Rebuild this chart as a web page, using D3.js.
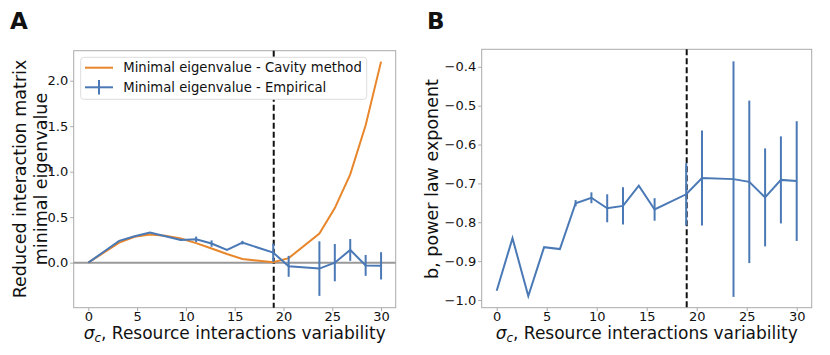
<!DOCTYPE html>
<html>
<head>
<meta charset="utf-8">
<script src="https://cdnjs.cloudflare.com/ajax/libs/d3/7.8.5/d3.min.js"></script>
<style>
  body { margin: 0; background: #fff; }
  text { font-family: "DejaVu Sans", sans-serif; fill: #111; }
</style>
</head>
<body>
<div id="vis"></div>
<script>
////////// data //////////
var sigma = [0, 1.58, 3.16, 4.74, 6.32, 7.89, 9.47, 11.05, 12.63, 14.21, 15.79, 18.95, 20.53, 23.68, 25.26, 26.84, 28.42, 30];
var cavityEig = [0, 0.11, 0.22, 0.285, 0.31, 0.295, 0.265, 0.215, 0.155, 0.095, 0.04, 0.005, 0.05, 0.32, 0.6, 0.97, 1.51, 2.21];
var empiricalEig = [0, 0.12, 0.24, 0.29, 0.33, 0.29, 0.25, 0.257, 0.21, 0.14, 0.22, 0.11, -0.04, -0.065, 0, 0.14, -0.03, -0.035];
var empiricalErr = [0, 0, 0, 0, 0, 0, 0.012, 0.03, 0.035, 0, 0.02, 0.1, 0.115, 0.3, 0.205, 0.12, 0.115, 0.15];
var exponentB = [-0.976, -0.841, -0.99, -0.864, -0.869, -0.751, -0.737, -0.764, -0.758, -0.706, -0.767, -0.728, -0.686, -0.689, -0.696, -0.736, -0.691, -0.694];
var exponentErr = [0, 0, 0, 0, 0, 0.008, 0.014, 0.036, 0.048, 0, 0.029, 0.08, 0.122, 0.303, 0.209, 0.126, 0.112, 0.154];
var criticalSigma = 19;
var xTicks = [0, 5, 10, 15, 20, 25, 30];
var yTicksA = [0, 0.5, 1.0, 1.5, 2.0];
var yTicksB = [-1.0, -0.9, -0.8, -0.7, -0.6, -0.5, -0.4];
var legendLabels = ["Minimal eigenvalue - Cavity method", "Minimal eigenvalue - Empirical"];

var blue = "#4a79b6", orange = "#e8862b", spine = "#aaa";
var tickFont = 13, labelFont = 17.5;

var svg = d3.select("#vis").append("svg")
  .attr("width", 830)
  .attr("height", 355);

function panel(box, xDomain, yDomain, yTicks, yFmt) {
  var x = d3.scaleLinear().domain(xDomain).range([box.left, box.right]);
  var y = d3.scaleLinear().domain(yDomain).range([box.bottom, box.top]);
  var g = svg.append("g");

  var xAxis = g.append("g")
    .attr("transform", "translate(0," + box.bottom + ")")
    .call(d3.axisBottom(x).tickValues(xTicks).tickSize(3.5).tickPadding(1).tickFormat(d3.format("d")));
  var yAxis = g.append("g")
    .attr("transform", "translate(" + box.left + ",0)")
    .call(d3.axisLeft(y).tickValues(yTicks).tickSize(3.5).tickPadding(2).tickFormat(yFmt));
  [xAxis, yAxis].forEach(function (a) {
    a.select(".domain").remove();
    a.selectAll("line").attr("stroke", spine).attr("stroke-width", 1);
    a.selectAll("text").attr("font-size", tickFont).style("font-family", "DejaVu Sans").attr("fill", "#222");
  });

  g.append("rect")
    .attr("x", box.left)
    .attr("y", box.top)
    .attr("width", box.right - box.left)
    .attr("height", box.bottom - box.top)
    .attr("fill", "none")
    .attr("stroke", spine)
    .attr("stroke-width", 1);

  // x label with sigma_c
  var xl = g.append("text")
    .attr("x", (box.left + box.right) / 2)
    .attr("y", 339)
    .attr("text-anchor", "middle")
    .attr("font-size", 17);
  xl.append("tspan").attr("font-style", "italic").text("σ");
  xl.append("tspan").attr("font-style", "italic").attr("font-size", 12).attr("dy", 3).text("c");
  xl.append("tspan").attr("dy", -3).text(", Resource interactions variability");

  return { x: x, y: y, g: g };
}

////////// panel A //////////
var A = panel({ left: 73.7, right: 395.7, top: 50.7, bottom: 307.7 }, [-1.5, 31.5], [-0.495, 2.33], yTicksA, d3.format(".1f"));

A.g.append("line")
  .attr("x1", 73.7).attr("x2", 395.7)
  .attr("y1", A.y(0)).attr("y2", A.y(0))
  .attr("stroke", "#999")
  .attr("stroke-width", 2);

A.g.append("line")
  .attr("x1", A.x(criticalSigma)).attr("x2", A.x(criticalSigma))
  .attr("y1", 50.7).attr("y2", 307.7)
  .attr("stroke", "#111")
  .attr("stroke-width", 2)
  .attr("stroke-dasharray", "6,3");

var lineA = d3.line()
  .x(function (d, i) { return A.x(sigma[i]); })
  .y(function (d) { return A.y(d); });

A.g.append("path")
  .attr("d", lineA(cavityEig))
  .attr("fill", "none")
  .attr("stroke", orange)
  .attr("stroke-width", 2);

A.g.append("path")
  .attr("d", lineA(empiricalEig))
  .attr("fill", "none")
  .attr("stroke", blue)
  .attr("stroke-width", 2);

A.g.selectAll(".errA")
  .data(empiricalEig)
  .enter()
  .append("line")
  .attr("class", "errA")
  .attr("x1", function (d, i) { return A.x(sigma[i]); })
  .attr("x2", function (d, i) { return A.x(sigma[i]); })
  .attr("y1", function (d, i) { return A.y(d - empiricalErr[i]); })
  .attr("y2", function (d, i) { return A.y(d + empiricalErr[i]); })
  .attr("stroke", blue)
  .attr("stroke-width", 2);

// legend
var leg = A.g.append("g");
leg.append("rect")
  .attr("x", 80.7).attr("y", 57.3)
  .attr("width", 286).attr("height", 42)
  .attr("rx", 3)
  .attr("fill", "#fff")
  .attr("stroke", "#ddd");
leg.append("line")
  .attr("x1", 85).attr("x2", 113).attr("y1", 67.7).attr("y2", 67.7)
  .attr("stroke", orange).attr("stroke-width", 2);
leg.append("line")
  .attr("x1", 85).attr("x2", 113).attr("y1", 87.3).attr("y2", 87.3)
  .attr("stroke", blue).attr("stroke-width", 2);
leg.append("line")
  .attr("x1", 99).attr("x2", 99).attr("y1", 80).attr("y2", 94.5)
  .attr("stroke", blue).attr("stroke-width", 2);
leg.selectAll(".legtext")
  .data(legendLabels)
  .enter()
  .append("text")
  .attr("class", "legtext")
  .attr("x", 123.3)
  .attr("y", function (d, i) { return 72.4 + i * 19.6; })
  .attr("font-size", 13.2)
  .text(function (d) { return d; });

svg.append("text")
  .attr("transform", "translate(26,179) rotate(-90)")
  .attr("text-anchor", "middle")
  .attr("font-size", labelFont)
  .text("Reduced interaction matrix");
svg.append("text")
  .attr("transform", "translate(46.5,179) rotate(-90)")
  .attr("text-anchor", "middle")
  .attr("font-size", labelFont)
  .text("minimal eigenvalue");

svg.append("text")
  .attr("x", 10).attr("y", 29.3)
  .attr("font-size", 23)
  .attr("font-weight", "bold")
  .text("A");

////////// panel B //////////
var B = panel({ left: 481.7, right: 811.7, top: 49.3, bottom: 307.7 }, [-1.5, 31.5], [-1.0198, -0.355], yTicksB, function (d) { return d3.format(".1f")(d).replace("-", "−"); });

B.g.append("line")
  .attr("x1", B.x(criticalSigma)).attr("x2", B.x(criticalSigma))
  .attr("y1", 49.3).attr("y2", 307.7)
  .attr("stroke", "#111")
  .attr("stroke-width", 2)
  .attr("stroke-dasharray", "6,3");

var lineB = d3.line()
  .x(function (d, i) { return B.x(sigma[i]); })
  .y(function (d) { return B.y(d); });

B.g.append("path")
  .attr("d", lineB(exponentB))
  .attr("fill", "none")
  .attr("stroke", blue)
  .attr("stroke-width", 2);

B.g.selectAll(".errB")
  .data(exponentB)
  .enter()
  .append("line")
  .attr("class", "errB")
  .attr("x1", function (d, i) { return B.x(sigma[i]); })
  .attr("x2", function (d, i) { return B.x(sigma[i]); })
  .attr("y1", function (d, i) { return B.y(d - exponentErr[i]); })
  .attr("y2", function (d, i) { return B.y(d + exponentErr[i]); })
  .attr("stroke", blue)
  .attr("stroke-width", 2);

svg.append("text")
  .attr("transform", "translate(438,179) rotate(-90)")
  .attr("text-anchor", "middle")
  .attr("font-size", labelFont)
  .text("b, power law exponent");

svg.append("text")
  .attr("x", 427).attr("y", 29.3)
  .attr("font-size", 23)
  .attr("font-weight", "bold")
  .text("B");
</script>
</body>
</html>
